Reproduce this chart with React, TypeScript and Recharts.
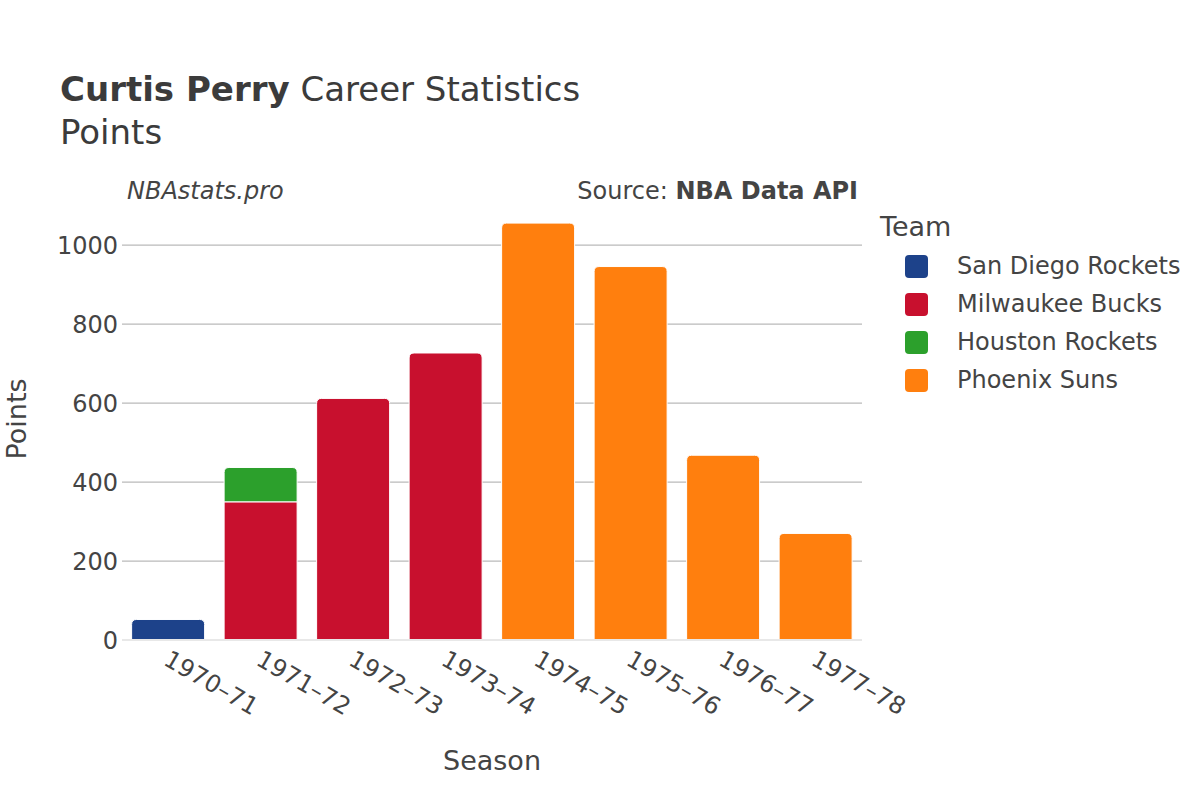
import React from "react";
import {
    BarChart,
    Bar,
    XAxis,
    YAxis,
    CartesianGrid,
} from "recharts";

const seasons = ["1970–71", "1971–72", "1972–73", "1973–74", "1974–75", "1975–76", "1976–77", "1977–78"];
const sanDiegoRockets = [52, null, null, null, null, null, null, null];
const milwaukeeBucks = [null, 350, 612, 727, null, null, null, null];
const houstonRockets = [null, 87, null, null, null, null, null, null];
const phoenixSuns = [null, null, null, null, 1056, 946, 468, 270];
const yTicks = [0, 200, 400, 600, 800, 1000];

const teams = [
    { key: "sanDiego", name: "San Diego Rockets", color: "#1d428a" },
    { key: "milwaukee", name: "Milwaukee Bucks", color: "#c8102e" },
    { key: "houston", name: "Houston Rockets", color: "#2ca02c" },
    { key: "phoenix", name: "Phoenix Suns", color: "#ff7f0e" },
];

const data = seasons.map((season, i) => ({
    season,
    sanDiego: sanDiegoRockets[i],
    milwaukee: milwaukeeBucks[i],
    houston: houstonRockets[i],
    phoenix: phoenixSuns[i],
}));

const FONT = "'DejaVu Sans', sans-serif";
const TEXT = "#444";

// only the top segment of a stack gets rounded corners
function makeShape(key: string, color: string) {
    const order = teams.map((t) => t.key);
    return (props: any) => {
        const { x, y, width, height, payload } = props;
        if (!height || height <= 0) return <g />;
        const idx = order.indexOf(key);
        const above = order.slice(idx + 1).some((k) => payload && payload[k] != null);
        const r = above ? 0 : Math.min(5, width / 2, height);
        const d = `M${x},${y + height} L${x},${y + r} Q${x},${y} ${x + r},${y} L${x + width - r},${y} Q${x + width},${y} ${x + width},${y + r} L${x + width},${y + height} Z`;
        return <path d={d} fill={color} stroke="#ffffff" strokeWidth={1} />;
    };
}

function SeasonTick({ x, y, payload }: any) {
    return (
        <g transform={`translate(${x - 6},${y + 16})`}>
            <text transform="rotate(30)" textAnchor="start" fontSize={24} fill={TEXT} fontFamily={FONT}>
                {payload.value}
            </text>
        </g>
    );
}

export default function App() {
    return (
        <div style={{ position: "absolute", left: 0, top: 0, width: 1200, height: 800, background: "#fff" }}>
            <BarChart
                width={1200}
                height={800}
                data={data}
                margin={{ top: 201, right: 338, bottom: 0, left: 0 }}
                barCategoryGap="10.4%"
            >
                <CartesianGrid vertical={false} horizontalValues={yTicks} stroke="#bababa" strokeWidth={1.2} />
                <XAxis
                    dataKey="season"
                    height={160}
                    tick={<SeasonTick />}
                    tickLine={false}
                    axisLine={{ stroke: "#e8e8e8", strokeWidth: 2 }}
                    interval={0}
                />
                <YAxis
                    width={122}
                    domain={[0, 1112]}
                    ticks={yTicks}
                    allowDataOverflow
                    tickLine={false}
                    axisLine={false}
                    tickSize={4}
                    tickMargin={0}
                    tick={{ fontSize: 24, fill: TEXT, fontFamily: FONT }}
                />
                {teams.map((t) => (
                    <Bar
                        key={t.key}
                        dataKey={t.key}
                        name={t.name}
                        stackId="a"
                        fill={t.color}
                        shape={makeShape(t.key, t.color)}
                        isAnimationActive={false}
                    />
                ))}
            </BarChart>
            <svg width={1200} height={800} style={{ position: "absolute", left: 0, top: 0, pointerEvents: "none" }} fontFamily={FONT}>
                <text x={60} y={101} fontSize={34} fill="#3b3b3b">
                    <tspan fontWeight="bold">Curtis Perry</tspan> Career Statistics
                </text>
                <text x={60} y={144} fontSize={34} fill="#3b3b3b">Points</text>
                <text x={127} y={199} fontSize={24} fontStyle="italic" fill={TEXT}>NBAstats.pro</text>
                <text x={858} y={199} fontSize={24} textAnchor="end" fill={TEXT}>
                    Source: <tspan fontWeight="bold">NBA Data API</tspan>
                </text>
                <text x={492} y={770} fontSize={27} textAnchor="middle" fill={TEXT}>Season</text>
                <text transform="translate(26,419) rotate(-90)" fontSize={27} textAnchor="middle" fill={TEXT}>Points</text>
                <text x={880} y={236} fontSize={27} fill={TEXT}>Team</text>
                {teams.map((t, i) => (
                    <g key={t.key}>
                        <rect x={905} y={255 + i * 38} width={23} height={23} rx={4} fill={t.color} />
                        <text x={957} y={274 + i * 38} fontSize={24} fill={TEXT}>{t.name}</text>
                    </g>
                ))}
            </svg>
        </div>
    );
}
